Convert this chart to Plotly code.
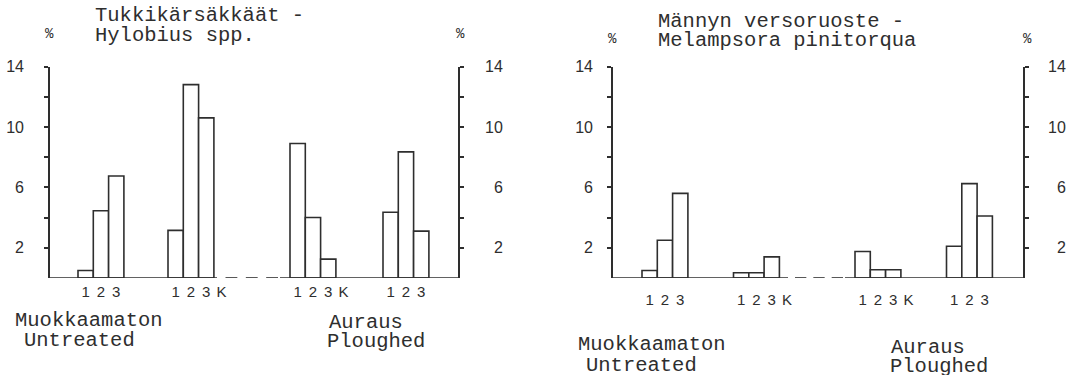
import plotly.graph_objects as go

W, H = 1077, 375
INK = "#2e2e2e"
MONO = "Liberation Mono, DejaVu Sans Mono, monospace"
SANS = "Liberation Sans, Arial, sans-serif"

# Percent of seedlings damaged, per stock type (1, 2, 3, K) and soil treatment
hylobius_untreated_a = [0.5, 4.45, 6.75]
hylobius_untreated_b = [3.15, 12.8, 10.6]
hylobius_ploughed_a = [8.9, 4.0, 1.25]
hylobius_ploughed_b = [4.35, 8.35, 3.1]

melampsora_untreated_a = [0.5, 2.5, 5.6]
melampsora_untreated_b = [0.35, 0.35, 1.4]
melampsora_ploughed_a = [1.75, 0.55, 0.55]
melampsora_ploughed_b = [2.1, 6.25, 4.1]

group_tick_labels = [["1", "2", "3"], ["1", "2", "3", "K"], ["1", "2", "3", "K"], ["1", "2", "3"]]
y_tick_values = [2, 4, 6, 8, 10, 12, 14]
y_tick_labels = ["2", "", "6", "", "10", "", "14"]

left_titles = ["Tukkikärsäkkäät -", "Hylobius spp."]
right_titles = ["Männyn versoruoste -", "Melampsora pinitorqua"]
treatment_fi = ["Muokkaamaton", "Auraus"]
treatment_en = ["Untreated", "Ploughed"]

BASE_Y = 278   # pixel row of the zero line
TOP_Y = 66.5   # pixel row of the 14 % tick
BW = 15.3      # bar width in pixels


def fx(px):
    return px / W


def fy(py):
    return 1 - py / H


panels = [
    dict(
        groups=[hylobius_untreated_a, hylobius_untreated_b, hylobius_ploughed_a, hylobius_ploughed_b],
        x0=50, x1=458, lefts=[28, 118, 240, 333], dash=(167, 230), gap=8.5,
        std_l=17, std_r=18, xstd=3,
    ),
    dict(
        groups=[melampsora_untreated_a, melampsora_untreated_b, melampsora_ploughed_a, melampsora_ploughed_b],
        x0=613, x1=1023, lefts=[29, 120.5, 242, 333.5], dash=(175, 232), gap=7,
        std_l=11, std_r=16, xstd=11,
    ),
]

fig = go.Figure()
layout = dict(
    template="none",
    width=W, height=H, margin=dict(l=0, r=0, t=0, b=0, pad=0), autosize=False,
    paper_bgcolor="white", plot_bgcolor="rgba(0,0,0,0)", showlegend=False,
)
shapes = []
ydom = [fy(BASE_Y), fy(TOP_Y)]

for k, p in enumerate(panels):
    xa = "x" if k == 0 else "x2"
    ya_l = "y" if k == 0 else "y3"
    ya_r = "y2" if k == 0 else "y4"
    xname = "xaxis" if k == 0 else "xaxis2"
    yl_name = "yaxis" if k == 0 else "yaxis3"
    yr_name = "yaxis2" if k == 0 else "yaxis4"
    width = p["x1"] - p["x0"]

    xs, ys, tv, tt = [], [], [], []
    for left, vals, labels in zip(p["lefts"], p["groups"], group_tick_labels):
        for j, v in enumerate(vals):
            xs.append(left + (j + 0.5) * BW)
            ys.append(v)
        for j, lab in enumerate(labels):
            tv.append(left + (j + 0.5) * BW)
            tt.append(lab)

    fig.add_trace(go.Bar(
        x=xs, y=ys, width=[BW] * len(xs), xaxis=xa, yaxis=ya_l,
        marker=dict(color="white", line=dict(color=INK, width=1.6)),
        hoverinfo="skip", cliponaxis=False,
    ))
    # empty companion trace so the right-hand scale is drawn
    fig.add_trace(go.Scatter(
        x=[0], y=[0], xaxis=xa, yaxis=ya_r, mode="markers",
        marker=dict(size=1, color="rgba(0,0,0,0)"), hoverinfo="skip",
    ))

    layout[xname] = dict(
        domain=[fx(p["x0"]), fx(p["x1"])], range=[0, width], anchor=ya_l,
        showline=False, showgrid=False, zeroline=False, ticks="", automargin=False,
        tickmode="array", tickvals=tv, ticktext=tt,
        tickfont=dict(family=SANS, size=15, color=INK), ticklabelstandoff=p["xstd"],
    )
    common_y = dict(
        domain=ydom, range=[0, 14], showgrid=False, zeroline=False, automargin=False,
        showline=True, linecolor=INK, linewidth=1.6,
        ticks="outside", ticklen=4, tickwidth=1.5, tickcolor=INK,
        tickmode="array", tickvals=y_tick_values,
        tickfont=dict(family=SANS, size=16, color=INK),
    )
    layout[yl_name] = dict(common_y, anchor=xa, side="left",
                           ticktext=y_tick_labels, ticklabelstandoff=p["std_l"])
    layout[yr_name] = dict(common_y, anchor=xa, side="right", overlaying=ya_l,
                           ticktext=[("\u2007" + t if len(t) == 1 else t) for t in y_tick_labels],
                           ticklabelstandoff=p["std_r"])

    # zero line: solid, broken by three short dashes between the two treatments
    d0, d1 = p["dash"]
    gap = p["gap"]
    n_dash = 3
    dash_len = (d1 - d0 - n_dash * gap - 2) / n_dash
    segs = [(0, d0), (d1, width)]
    for i in range(n_dash):
        a = d0 + gap + i * (dash_len + gap)
        segs.append((a, a + dash_len))
    for a, b in segs:
        shapes.append(dict(type="line", xref=xa, yref=ya_l, x0=a, x1=b, y0=0, y1=0,
                           line=dict(color=INK, width=1.6)))

layout["shapes"] = shapes


def note(text, x, y, size=20.5, family=MONO, xanchor="left"):
    return dict(text=text, x=fx(x), y=fy(y), xref="paper", yref="paper",
                xanchor=xanchor, yanchor="middle", showarrow=False,
                font=dict(family=family, size=size, color=INK))


ann = [
    note(left_titles[0], 93, 15), note(left_titles[1], 93, 36),
    note("%", 49, 34, size=14, xanchor="center"), note("%", 460, 34, size=14, xanchor="center"),
    note(treatment_fi[0], 13, 320), note(treatment_en[0], 22, 340),
    note(treatment_fi[1], 327, 322), note(treatment_en[1], 325, 341),
    note(right_titles[0], 656, 21), note(right_titles[1], 656, 40),
    note("%", 612, 39, size=14, xanchor="center"), note("%", 1027, 39, size=14, xanchor="center"),
    note(treatment_fi[0], 576, 344), note(treatment_en[0], 584, 365),
    note(treatment_fi[1], 889, 347), note(treatment_en[1], 888, 366),
]
layout["annotations"] = ann

fig.update_layout(**layout)
fig.write_html("out.html")
